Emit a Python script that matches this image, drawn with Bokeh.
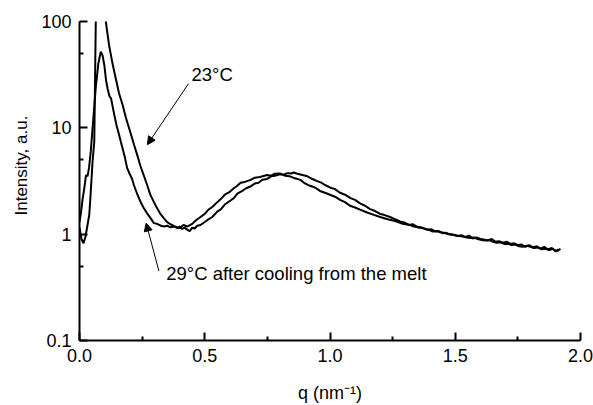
from bokeh.plotting import figure
from bokeh.models import (Range1d, FixedTicker, NumeralTickFormatter, CustomJSTickFormatter,
                          Label, Arrow, NormalHead, Title)
from bokeh.embed import file_html
from bokeh.resources import INLINE

# ---- data: 23 °C ----
q_23 = [0.0, 0.008, 0.016, 0.024, 0.032, 0.039, 0.045, 0.052, 0.059, 0.065, 0.075, 0.085, 0.095, 0.105,
        0.118, 0.132, 0.145, 0.158, 0.172, 0.185, 0.198, 0.208, 0.218, 0.23, 0.243, 0.256, 0.27, 0.283,
        0.297, 0.31, 0.323, 0.337, 0.35, 0.363, 0.375, 0.39, 0.40, 0.41, 0.42, 0.43, 0.44, 0.45, 0.46,
        0.47, 0.483, 0.5, 0.515, 0.53, 0.55, 0.565, 0.58, 0.6, 0.616, 0.63, 0.65, 0.665, 0.683, 0.70,
        0.715, 0.73, 0.749, 0.765, 0.78, 0.80, 0.815, 0.83, 0.845, 0.855, 0.87, 0.89, 0.91, 0.93, 0.949,
        0.965, 0.98, 1.0, 1.02, 1.04, 1.06, 1.082, 1.1, 1.12, 1.14, 1.16, 1.18, 1.2, 1.215, 1.24, 1.26,
        1.28, 1.30, 1.315, 1.33, 1.348, 1.36, 1.375, 1.39, 1.405, 1.42, 1.435, 1.45, 1.465, 1.481, 1.495,
        1.51, 1.525, 1.54, 1.555, 1.57, 1.585, 1.6, 1.614, 1.63, 1.645, 1.66, 1.675, 1.69, 1.705, 1.72,
        1.735, 1.75, 1.765, 1.78, 1.795, 1.81, 1.825, 1.84, 1.855, 1.87, 1.885, 1.9, 1.912]
i_23 = [1.15, 0.9, 0.82, 0.95, 1.22, 1.52, 2.5, 4.8, 7.4, 100, 160, 200, 170, 100,
        60, 40, 29, 21, 16.5, 12.5, 9.9, 8.3, 6.9, 5.6, 4.4, 3.6, 2.9, 2.34,
        2.0, 1.75, 1.55, 1.41, 1.3, 1.24, 1.2, 1.14, 1.18, 1.12, 1.15, 1.1, 1.07, 1.15, 1.13,
        1.2, 1.22, 1.3, 1.38, 1.45, 1.63, 1.72, 1.9, 2.05, 2.18, 2.4, 2.55, 2.7, 2.81, 3.0,
        3.05, 3.25, 3.31, 3.5, 3.55, 3.65, 3.62, 3.75, 3.72, 3.8, 3.7, 3.6, 3.5, 3.3, 3.15,
        3.05, 2.9, 2.75, 2.65, 2.45, 2.35, 2.18, 2.1, 1.95, 1.85, 1.72, 1.65, 1.55, 1.52, 1.45, 1.38,
        1.32, 1.28, 1.22, 1.24, 1.17, 1.15, 1.13, 1.1, 1.11, 1.06, 1.07, 1.02, 1.03, 0.99, 0.99,
        0.96, 0.98, 0.94, 0.97, 0.91, 0.93, 0.9, 0.89, 0.87, 0.9, 0.85, 0.86, 0.83, 0.85, 0.81,
        0.82, 0.79, 0.8, 0.76, 0.79, 0.75, 0.77, 0.73, 0.76, 0.72, 0.74, 0.69, 0.72]

# ---- data: 29 °C after cooling from the melt ----
q_29 = [0.0, 0.006, 0.012, 0.02, 0.026, 0.032, 0.038, 0.045, 0.055, 0.065, 0.075, 0.085, 0.092, 0.099,
        0.106, 0.112, 0.119, 0.126, 0.132, 0.139, 0.148, 0.158, 0.165, 0.172, 0.181, 0.19, 0.2, 0.21,
        0.217, 0.23, 0.243, 0.257, 0.27, 0.285, 0.297, 0.31, 0.325, 0.337, 0.35, 0.363, 0.38, 0.4, 0.415,
        0.43, 0.45, 0.465, 0.483, 0.5, 0.515, 0.53, 0.55, 0.565, 0.58, 0.6, 0.616, 0.63, 0.643, 0.66,
        0.683, 0.70, 0.72, 0.749, 0.765, 0.78, 0.80, 0.82, 0.84, 0.86, 0.882, 0.9, 0.92, 0.94, 0.96,
        0.98, 1.0, 1.02, 1.04, 1.06, 1.08, 1.1, 1.12, 1.148, 1.175, 1.2, 1.23, 1.26, 1.29, 1.32,
        1.335, 1.35, 1.365, 1.38, 1.395, 1.41, 1.425, 1.44, 1.455, 1.47, 1.485, 1.5, 1.515, 1.53,
        1.545, 1.56, 1.575, 1.59, 1.605, 1.62, 1.635, 1.65, 1.665, 1.68, 1.695, 1.71, 1.725, 1.74,
        1.755, 1.77, 1.785, 1.8, 1.815, 1.83, 1.845, 1.86, 1.875, 1.89, 1.9, 1.91, 1.92]
i_29 = [1.3, 1.6, 2.1, 2.8, 3.6, 3.5, 4.2, 6.0, 12, 24, 40, 52, 48, 39,
        28, 23.5, 20, 18.9, 16, 13.2, 10.5, 8.6, 7.4, 6.4, 5.3, 4.2, 3.7, 3.3,
        2.9, 2.4, 2.03, 1.75, 1.57, 1.4, 1.27, 1.25, 1.2, 1.18, 1.2, 1.16, 1.18, 1.14, 1.22,
        1.18, 1.25, 1.35, 1.45, 1.55, 1.7, 1.8, 2.0, 2.15, 2.35, 2.5, 2.7, 2.85, 3.05, 3.1,
        3.24, 3.4, 3.45, 3.6, 3.55, 3.7, 3.73, 3.55, 3.5, 3.35, 3.24, 3.0, 2.85, 2.75, 2.55,
        2.45, 2.35, 2.25, 2.1, 2.0, 1.85, 1.78, 1.7, 1.6, 1.52, 1.45, 1.38, 1.33, 1.25, 1.22,
        1.18, 1.16, 1.16, 1.12, 1.1, 1.06, 1.07, 1.04, 1.03, 1.0, 1.0, 0.97, 0.96, 0.95,
        0.93, 0.92, 0.93, 0.9, 0.88, 0.87, 0.88, 0.85, 0.83, 0.84, 0.81, 0.81, 0.79, 0.8,
        0.77, 0.76, 0.78, 0.76, 0.74, 0.75, 0.72, 0.73, 0.71, 0.73, 0.7, 0.7, 0.73]

x_ticks = [0.0, 0.5, 1.0, 1.5, 2.0]
x_minor = [0.25, 0.75, 1.25, 1.75]
y_ticks = [0.1, 1, 10, 100]
y_minor = [0.5, 5, 50]

FONT = "Liberation Sans"

p = figure(width=593, height=405, y_axis_type="log",
           x_range=Range1d(0, 2), y_range=Range1d(0.1, 100),
           output_backend="svg", toolbar_location=None,
           min_border_left=79, min_border_right=13, min_border_top=21, min_border_bottom=65)
p.outline_line_color = None
p.grid.visible = False
p.background_fill_color = "white"
p.border_fill_color = "white"

p.line(q_23, i_23, line_color="black", line_width=2)
p.line(q_29, i_29, line_color="black", line_width=2)

for ax in (p.xaxis[0], p.yaxis[0]):
    ax.axis_line_width = 2
    ax.axis_line_color = "black"
    ax.major_tick_line_width = 2
    ax.minor_tick_line_width = 2
    ax.major_tick_in = 8
    ax.major_tick_out = 0
    ax.minor_tick_in = 4
    ax.minor_tick_out = 0
    ax.major_label_text_font = FONT
    ax.major_label_text_font_size = "18px"
    ax.major_label_text_color = "black"

p.xaxis.ticker = FixedTicker(ticks=x_ticks, minor_ticks=x_minor)
p.xaxis.formatter = NumeralTickFormatter(format="0.0")
p.xaxis.major_label_standoff = 8
p.xaxis.axis_label = "q (nm\u207b\u00b9)"
p.xaxis.axis_label_text_font = FONT
p.xaxis.axis_label_text_font_size = "18px"
p.xaxis.axis_label_text_font_style = "normal"
p.xaxis.axis_label_text_color = "black"
p.xaxis.axis_label_standoff = 18

p.yaxis.ticker = FixedTicker(ticks=y_ticks, minor_ticks=y_minor)
p.yaxis.formatter = CustomJSTickFormatter(code="return String(tick);")
p.yaxis.major_label_standoff = 8

# y-axis title (placed off-centre as in the reference)
p.add_layout(Title(text="Intensity, a.u.", align="left", offset=125, standoff=16,
                   text_font=FONT, text_font_size="17px", text_font_style="normal",
                   text_color="black"), "left")

# annotations
p.add_layout(Label(x=0.447, y=32, text="23°C", text_align="left", text_baseline="middle",
                   text_font=FONT, text_font_size="18.5px", text_color="black"))
p.add_layout(Arrow(x_start=0.435, y_start=26, x_end=0.271, y_end=6.95,
                   line_color="black", line_width=1,
                   end=NormalHead(size=8, fill_color="black", line_color="black", line_width=1)))
p.add_layout(Label(x=0.346, y=0.43, text="29°C after cooling from the melt",
                   text_align="left", text_baseline="middle",
                   text_font=FONT, text_font_size="18.5px", text_color="black"))
p.add_layout(Arrow(x_start=0.317, y_start=0.45, x_end=0.266, y_end=1.27,
                   line_color="black", line_width=1,
                   end=NormalHead(size=8, fill_color="black", line_color="black", line_width=1)))

open("out.html", "w").write(file_html(p, INLINE))
